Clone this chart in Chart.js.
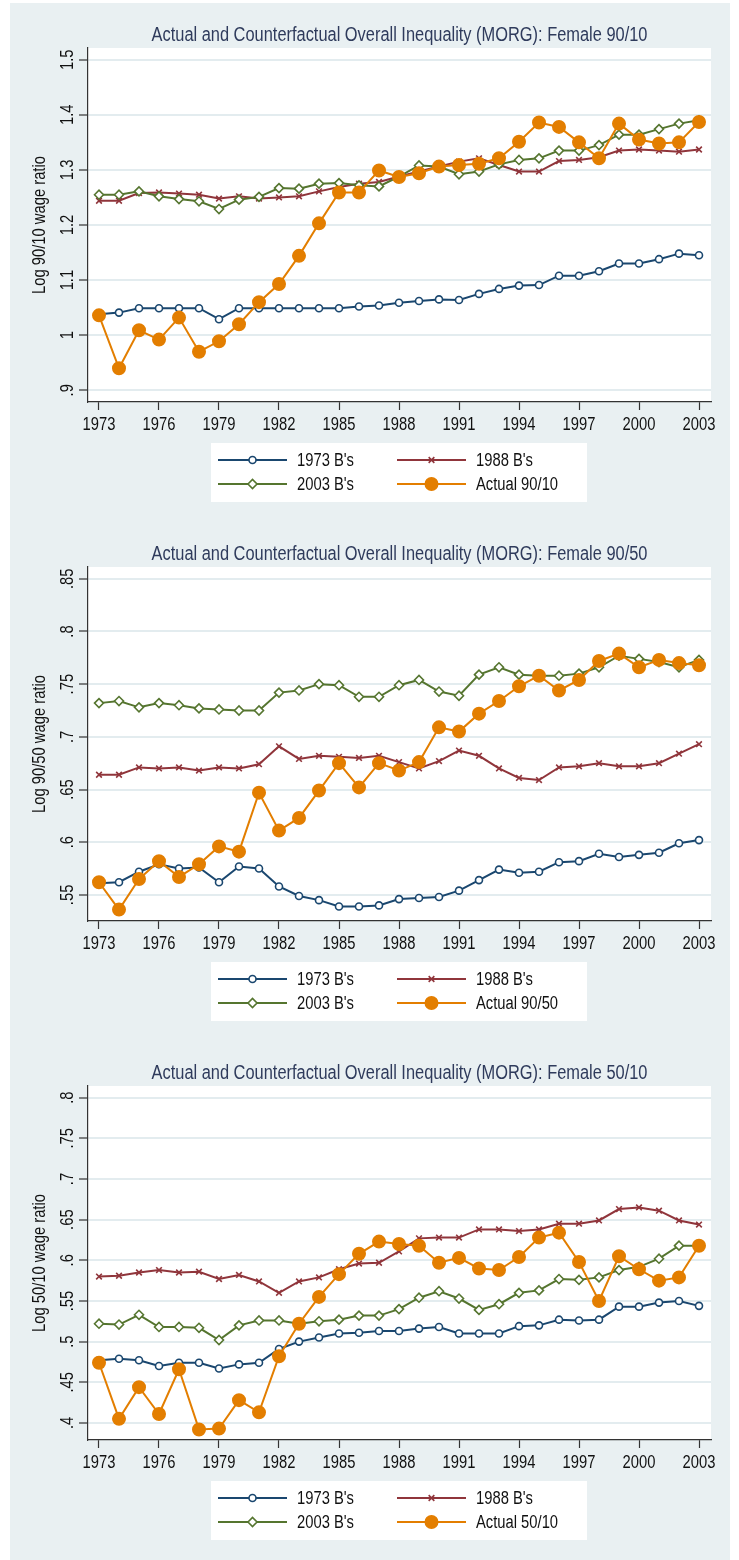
<!DOCTYPE html>
<html>
<head>
<meta charset="utf-8">
<script src="https://cdn.jsdelivr.net/npm/chart.js@4.4.1/dist/chart.umd.min.js"></script>
<style>
  body { margin: 0; background: #fff; }
  #wrap { position: absolute; left: 10px; top: 3px; width: 720px; background: #e9f0f2; }
  canvas { display: block; }
</style>
</head>
<body>
<div id="wrap">
  <canvas id="p1" width="720" height="519"></canvas>
  <canvas id="p2" width="720" height="519"></canvas>
  <canvas id="p3" width="720" height="519"></canvas>
</div>
<script>
// ---- data ----
const years = [1973,1974,1975,1976,1977,1978,1979,1980,1981,1982,1983,1984,1985,1986,1987,
               1988,1989,1990,1991,1992,1993,1994,1995,1996,1997,1998,1999,2000,2001,2002,2003];
const xTicks = [1973,1976,1979,1982,1985,1988,1991,1994,1997,2000,2003];
const seriesLabels = ["1973 B's", "1988 B's", "2003 B's"];

// Female 90/10
const p1Title = 'Actual and Counterfactual Overall Inequality (MORG): Female 90/10';
const p1YTitle = 'Log 90/10 wage ratio';
const p1YTicks = [0.9, 1, 1.1, 1.2, 1.3, 1.4, 1.5];
const p1YTickLabels = ['.9', '1', '1.1', '1.2', '1.3', '1.4', '1.5'];
const p1ActualLabel = 'Actual 90/10';
const p1B1973 = [1.038,1.041,1.049,1.049,1.049,1.049,1.029,1.049,1.049,1.049,1.049,1.049,1.049,1.052,1.054,
                 1.059,1.062,1.065,1.064,1.075,1.084,1.090,1.091,1.108,1.108,1.116,1.130,1.130,1.138,1.148,1.145];
const p1B1988 = [1.244,1.244,1.258,1.259,1.257,1.255,1.248,1.252,1.248,1.250,1.252,1.261,1.269,1.275,1.278,
                 1.288,1.297,1.306,1.315,1.321,1.309,1.297,1.297,1.316,1.318,1.323,1.335,1.337,1.335,1.333,1.337];
const p1B2003 = [1.255,1.255,1.261,1.252,1.247,1.243,1.229,1.246,1.251,1.267,1.266,1.275,1.276,1.272,1.270,
                 1.288,1.308,1.306,1.292,1.297,1.310,1.318,1.321,1.335,1.335,1.345,1.364,1.364,1.374,1.384,1.390];
const p1Actual = [1.036,0.940,1.009,0.992,1.032,0.970,0.989,1.020,1.060,1.093,1.144,1.203,1.259,1.259,1.299,
                  1.287,1.294,1.306,1.309,1.311,1.321,1.351,1.386,1.378,1.350,1.321,1.384,1.355,1.348,1.350,1.387];

// Female 90/50
const p2Title = 'Actual and Counterfactual Overall Inequality (MORG): Female 90/50';
const p2YTitle = 'Log 90/50 wage ratio';
const p2YTicks = [0.55, 0.6, 0.65, 0.7, 0.75, 0.8, 0.85];
const p2YTickLabels = ['.55', '.6', '.65', '.7', '.75', '.8', '.85'];
const p2ActualLabel = 'Actual 90/50';
const p2B1973 = [0.561,0.562,0.572,0.579,0.575,0.576,0.562,0.577,0.575,0.558,0.549,0.545,0.539,0.539,0.540,
                 0.546,0.547,0.548,0.554,0.564,0.574,0.571,0.572,0.581,0.582,0.589,0.586,0.588,0.590,0.599,0.602];
const p2B1988 = [0.664,0.664,0.671,0.670,0.671,0.668,0.671,0.670,0.674,0.691,0.679,0.682,0.681,0.680,0.682,
                 0.676,0.670,0.677,0.687,0.682,0.670,0.661,0.659,0.671,0.672,0.675,0.672,0.672,0.675,0.684,0.693];
const p2B2003 = [0.732,0.734,0.728,0.732,0.730,0.727,0.726,0.725,0.725,0.742,0.744,0.750,0.749,0.738,0.738,
                 0.749,0.754,0.743,0.739,0.759,0.766,0.759,0.758,0.758,0.760,0.766,0.777,0.774,0.771,0.766,0.773];
const p2Actual = [0.562,0.536,0.565,0.582,0.567,0.579,0.596,0.591,0.647,0.611,0.623,0.649,0.675,0.652,0.675,
                  0.668,0.676,0.709,0.705,0.722,0.734,0.748,0.758,0.744,0.754,0.772,0.779,0.766,0.773,0.770,0.768];

// Female 50/10
const p3Title = 'Actual and Counterfactual Overall Inequality (MORG): Female 50/10';
const p3YTitle = 'Log 50/10 wage ratio';
const p3YTicks = [0.4, 0.45, 0.5, 0.55, 0.6, 0.65, 0.7, 0.75, 0.8];
const p3YTickLabels = ['.4', '.45', '.5', '.55', '.6', '.65', '.7', '.75', '.8'];
const p3ActualLabel = 'Actual 50/10';
const p3B1973 = [0.477,0.479,0.477,0.470,0.474,0.474,0.467,0.472,0.474,0.491,0.500,0.505,0.510,0.511,0.513,
                 0.513,0.516,0.518,0.510,0.510,0.510,0.519,0.520,0.527,0.526,0.527,0.543,0.543,0.548,0.550,0.544];
const p3B1988 = [0.580,0.581,0.585,0.588,0.585,0.586,0.577,0.582,0.574,0.560,0.574,0.579,0.589,0.596,0.597,
                 0.611,0.627,0.628,0.628,0.638,0.638,0.636,0.638,0.645,0.645,0.649,0.663,0.665,0.661,0.649,0.644];
const p3B2003 = [0.522,0.521,0.533,0.518,0.518,0.517,0.502,0.520,0.526,0.526,0.522,0.525,0.527,0.532,0.532,
                 0.540,0.554,0.562,0.553,0.539,0.546,0.560,0.563,0.577,0.576,0.579,0.588,0.592,0.602,0.618,0.618];
const p3Actual = [0.474,0.405,0.444,0.411,0.466,0.392,0.393,0.428,0.413,0.482,0.522,0.555,0.583,0.608,0.623,
                  0.620,0.618,0.597,0.603,0.590,0.588,0.604,0.628,0.634,0.598,0.550,0.605,0.589,0.575,0.579,0.618];

// ---- drawing ----
// no Arial Narrow here, so squeeze Liberation Sans (same metrics as Arial) horizontally
const FONT = '"Liberation Sans", Arial, sans-serif';
const NARROW = 0.82;
const styles = [
  { color: '#1a476f', pointStyle: 'circle',   radius: 3.5, bg: '#ffffff' },
  { color: '#90353b', pointStyle: 'crossRot', radius: 4,   bg: '#90353b' },
  { color: '#55752f', pointStyle: 'rectRot',  radius: 4.5, bg: '#ffffff' },
  { color: '#e37e00', pointStyle: 'circle',   radius: 6.2, bg: '#e37e00' }
];

function narrowText(ctx, text, x, y, size, color, align, baseline, rot) {
  ctx.save();
  ctx.translate(x, y);
  if (rot) ctx.rotate(rot);
  ctx.scale(NARROW, 1);
  ctx.font = size + 'px ' + FONT;
  ctx.fillStyle = color;
  ctx.textAlign = align;
  ctx.textBaseline = baseline;
  ctx.fillText(text, 0, 0);
  ctx.restore();
}

const panelDecor = {
  id: 'panelDecor',
  beforeDraw(chart) {
    const { ctx, chartArea: a } = chart;
    ctx.save();
    ctx.fillStyle = '#ffffff';
    ctx.fillRect(a.left, a.top, a.right - a.left, a.bottom - a.top);
    ctx.restore();
  },
  afterDraw(chart, args, opts) {
    const { ctx, chartArea: a } = chart;
    const xScale = chart.scales.x, yScale = chart.scales.y;

    // title
    narrowText(ctx, opts.title, (a.left + a.right) / 2, 38, 20, '#2f3b5c', 'center', 'alphabetic');

    // y axis title
    narrowText(ctx, opts.yTitle, 35, (a.top + a.bottom) / 2, 18, '#111', 'center', 'alphabetic', -Math.PI / 2);

    // rotated y tick labels
    opts.yTicks.forEach((v, i) => {
      narrowText(ctx, opts.yTickLabels[i], a.left - 15, yScale.getPixelForValue(v), 18, '#111',
                 'center', 'alphabetic', -Math.PI / 2);
    });

    // x tick labels
    xTicks.forEach(v => {
      narrowText(ctx, String(v), xScale.getPixelForValue(v), a.bottom + 28, 18, '#111', 'center', 'alphabetic');
    });

    // legend
    ctx.save();
    ctx.fillStyle = '#ffffff';
    ctx.fillRect(201, 440, 376, 59);
    const cols = [208, 387], rows = [457, 481];
    chart.data.datasets.forEach((ds, i) => {
      const x0 = cols[i % 2], y0 = rows[Math.floor(i / 2)];
      ctx.strokeStyle = ds.borderColor;
      ctx.lineWidth = 2;
      ctx.beginPath();
      ctx.moveTo(x0, y0);
      ctx.lineTo(x0 + 69, y0);
      ctx.stroke();
      ctx.fillStyle = ds.pointBackgroundColor;
      ctx.strokeStyle = ds.pointBorderColor;
      ctx.lineWidth = ds.pointBorderWidth;
      Chart.helpers.drawPoint(ctx, {
        pointStyle: ds.pointStyle, radius: ds.pointRadius, rotation: 0, borderWidth: ds.pointBorderWidth
      }, x0 + 34.5, y0);
      narrowText(ctx, ds.label, x0 + 79, y0 + 1, 18, '#111', 'left', 'middle');
    });
    ctx.restore();
  }
};

function makePanel(id, title, yTitle, yTicks, yTickLabels, yMin, yMax, series, actualLabel) {
  const labels = seriesLabels.concat([actualLabel]);
  const datasets = series.map((vals, i) => ({
    label: labels[i],
    data: years.map((yr, j) => ({ x: yr, y: vals[j] })),
    borderColor: styles[i].color,
    borderWidth: 2,
    pointStyle: styles[i].pointStyle,
    pointRadius: styles[i].radius,
    pointBorderColor: styles[i].color,
    pointBackgroundColor: styles[i].bg,
    pointBorderWidth: 1.6,
    tension: 0,
    order: series.length - i
  }));

  new Chart(document.getElementById(id), {
    type: 'line',
    data: { datasets: datasets },
    plugins: [panelDecor],
    options: {
      responsive: false,
      animation: false,
      layout: { padding: { top: 45, right: 19, bottom: 84, left: 0 } },
      plugins: {
        legend: { display: false },
        tooltip: { enabled: false },
        panelDecor: { title: title, yTitle: yTitle, yTicks: yTicks, yTickLabels: yTickLabels }
      },
      scales: {
        x: {
          type: 'linear',
          min: 1972.45,
          max: 2003.6,
          afterBuildTicks: s => { s.ticks = xTicks.map(v => ({ value: v })); },
          afterFit: s => { s.height = 36; },
          ticks: { display: false },
          grid: { drawOnChartArea: false, drawTicks: true, tickLength: 8, tickColor: '#333', tickWidth: 1.2 },
          border: { color: '#333', width: 1.2 }
        },
        y: {
          min: yMin,
          max: yMax,
          afterBuildTicks: s => { s.ticks = yTicks.map(v => ({ value: v })); },
          afterFit: s => { s.width = 78; },
          ticks: { display: false },
          grid: { color: '#e3ecef', lineWidth: 2, drawTicks: true, tickLength: 9, tickColor: '#333', tickWidth: 1.2 },
          border: { color: '#333', width: 1.2 }
        }
      }
    }
  });
}

makePanel('p1', p1Title, p1YTitle, p1YTicks, p1YTickLabels, 0.8788, 1.5212,
          [p1B1973, p1B1988, p1B2003, p1Actual], p1ActualLabel);
makePanel('p2', p2Title, p2YTitle, p2YTicks, p2YTickLabels, 0.5252, 0.8612,
          [p2B1973, p2B1988, p2B2003, p2Actual], p2ActualLabel);
makePanel('p3', p3Title, p3YTitle, p3YTicks, p3YTickLabels, 0.379, 0.8144,
          [p3B1973, p3B1988, p3B2003, p3Actual], p3ActualLabel);
</script>
</body>
</html>
